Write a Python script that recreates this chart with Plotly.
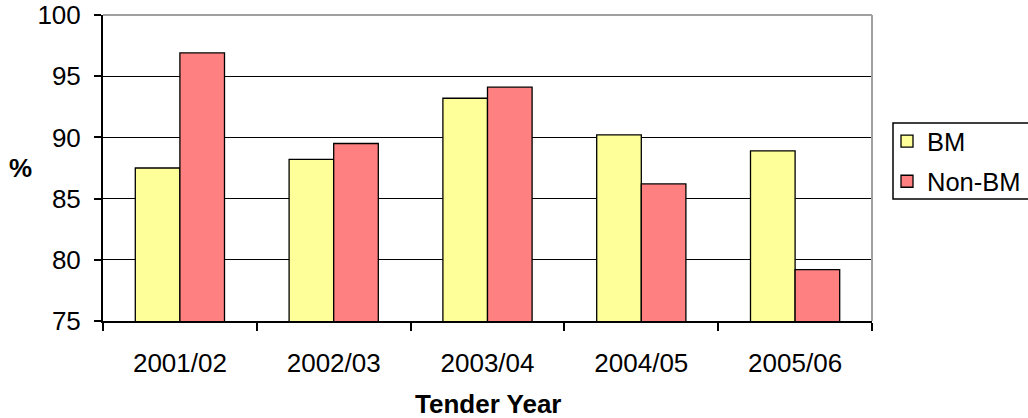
import plotly.graph_objects as go

# Tender years and the percentage for each group
years = ["2001/02", "2002/03", "2003/04", "2004/05", "2005/06"]
bm = [87.5, 88.2, 93.2, 90.2, 88.9]
non_bm = [96.9, 89.5, 94.1, 86.2, 79.2]
y_ticks = [75, 80, 85, 90, 95, 100]

FONT = "Liberation Sans, Arial, sans-serif"
FS = 26

fig = go.Figure()
fig.add_trace(go.Bar(
    x=years, y=bm, name="BM", legendgroup="a",
    marker=dict(color="#FFFF99", line=dict(color="black", width=1.3)),
))
fig.add_trace(go.Bar(
    x=years, y=non_bm, name="Non-BM", legendgroup="b",
    marker=dict(color="#FF8080", line=dict(color="black", width=1.3)),
))

fig.update_layout(
    width=1028, height=418,
    margin=dict(l=103, r=156, t=15, b=97, autoexpand=False),
    paper_bgcolor="white", plot_bgcolor="white",
    barmode="group", bargap=0.42, bargroupgap=0,
    font=dict(family=FONT, size=FS, color="black"),
    showlegend=True,
    legend=dict(
        xref="container", yref="container",
        x=887 / 1028, y=1 - 118 / 418, xanchor="left", yanchor="top",
        borderwidth=0, bgcolor="rgba(0,0,0,0)",
        font=dict(family=FONT, size=25.5, color="black"),
        traceorder="grouped", tracegroupgap=4,
    ),
    xaxis=dict(
        type="category", tickson="boundaries", ticks="outside", ticklen=8,
        tickcolor="black", tickwidth=1.5, automargin=False,
        showline=True, linecolor="black", linewidth=2,
        showgrid=False, ticklabelstandoff=18,
        tickfont=dict(family=FONT, size=FS),
    ),
    yaxis=dict(
        range=[75, 100], tickvals=y_ticks, ticks="outside", ticklen=7,
        tickcolor="black", tickwidth=1.5, automargin=False,
        showline=True, linecolor="black", linewidth=2,
        showgrid=True, gridcolor="black", gridwidth=1,
        zeroline=False, ticklabelstandoff=8,
        tickfont=dict(family=FONT, size=FS),
    ),
    annotations=[
        dict(text="<b>%</b>", xref="paper", yref="paper", x=-0.107, y=0.5,
             xanchor="center", yanchor="middle", showarrow=False,
             font=dict(family=FONT, size=FS)),
        dict(text="<b>Tender Year</b>", xref="paper", yref="paper", x=0.5, y=-0.271,
             xanchor="center", yanchor="middle", showarrow=False,
             font=dict(family=FONT, size=FS)),
    ],
    shapes=[
        # grey frame along the top and right of the plot area
        dict(type="line", xref="paper", yref="paper", x0=0, x1=1, y0=1, y1=1,
             line=dict(color="#A0A0A0", width=2), layer="above"),
        dict(type="line", xref="paper", yref="paper", x0=1, x1=1, y0=0, y1=1,
             line=dict(color="#A0A0A0", width=2), layer="above"),
        # legend frame, running past the right edge of the page
        dict(type="rect", xref="paper", yref="paper",
             x0=(893 - 103) / 769, x1=(1040 - 103) / 769,
             y0=(321 - 199) / 306, y1=(321 - 123) / 306,
             line=dict(color="black", width=1.5), fillcolor="rgba(0,0,0,0)",
             layer="below"),
    ],
)

fig.write_html("out.html")
